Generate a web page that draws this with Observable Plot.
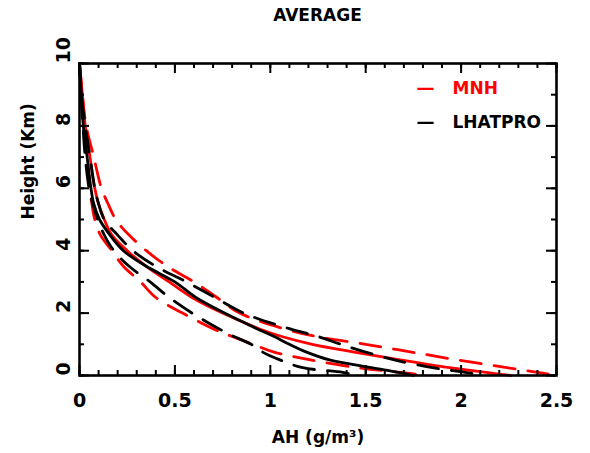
<!DOCTYPE html>
<html>
<head>
<meta charset="utf-8">
<script src="https://cdn.jsdelivr.net/npm/d3@7"></script>
<script src="https://cdn.jsdelivr.net/npm/@observablehq/plot@0.6"></script>
<style>
  body { margin: 0; background: #fff; }
  #title { width: 590px; height: 30px; line-height: 31px; padding-left: 45px; box-sizing: border-box;
           text-align: center; font-family: "DejaVu Sans", sans-serif; font-weight: bold; font-size: 17px; color: #000; }
</style>
</head>
<body>
<div id="title">AVERAGE</div>
<div id="chart"></div>
<script>
const heights   = [10, 9, 8, 7, 6, 5.5, 5, 4.5, 4, 3.5, 3, 2.5, 2, 1.5, 1.25, 1, 0.75, 0.5, 0.25, 0.1, 0];
const mnhMean   = [0, 0.015, 0.03, 0.055, 0.08, 0.10, 0.13, 0.17, 0.25, 0.35, 0.47, 0.59, 0.75, 0.94, 1.06, 1.22, 1.44, 1.68, 1.94, 2.13, 2.26];
const mnhPlus   = [0, 0.015, 0.035, 0.075, 0.115, 0.15, 0.19, 0.26, 0.35, 0.46, 0.60, 0.72, 0.84, 1.07, 1.24, 1.50, 1.74, 1.98, 2.24, 2.40, 2.50];
const mnhMinus  = [0, 0.01, 0.025, 0.04, 0.055, 0.065, 0.08, 0.11, 0.17, 0.23, 0.32, 0.40, 0.54, 0.70, 0.80, 0.91, 1.02, 1.21, 1.46, 1.68, 1.82];
const lhatMean  = [0, 0.01, 0.02, 0.04, 0.06, 0.075, 0.105, 0.16, 0.23, 0.35, 0.50, 0.61, 0.76, 0.93, 1.02, 1.10, 1.19, 1.31, 1.53, 1.67, 1.75];
const lhatPlus  = [0, 0.01, 0.03, 0.055, 0.08, 0.10, 0.13, 0.20, 0.28, 0.40, 0.56, 0.71, 0.86, 1.10, 1.25, 1.37, 1.50, 1.65, 1.85, 2.02, 2.12];
const lhatMinus = [0, 0.008, 0.018, 0.03, 0.05, 0.07, 0.095, 0.13, 0.18, 0.26, 0.37, 0.47, 0.59, 0.73, 0.81, 0.90, 0.96, 1.05, 1.17, 1.38, 1.45];

const xTicks = [0, 0.5, 1, 1.5, 2, 2.5];
const xMinor = d3.range(0, 26).map(i => i / 10);
const yTicks = [0, 2, 4, 6, 8, 10];
const yMinor = d3.range(0, 11);
const legendNames = ["MNH", "LHATPRO"];

const RED = "#ff0000", BLACK = "#000000";
const series = [
  {name: "MNH mean", vals: mnhMean, color: RED, dash: null},
  {name: "MNH +", vals: mnhPlus, color: RED, dash: "21,13"},
  {name: "MNH -", vals: mnhMinus, color: RED, dash: "21,13"},
  {name: "LHATPRO mean", vals: lhatMean, color: BLACK, dash: null},
  {name: "LHATPRO +", vals: lhatPlus, color: BLACK, dash: "21,13"},
  {name: "LHATPRO -", vals: lhatMinus, color: BLACK, dash: "21,13"}
];
const rows = s => s.vals.map((v, i) => ({ah: v, h: heights[i]}));

const W = 590, H = 423;
const mT = 33, mB = 78, mL = 79, mR = 34;
const fh = H - mT - mB;
const fw = W - mL - mR;

const lineMarks = series.map(s => Plot.line(rows(s), {
  x: "ah", y: "h", stroke: s.color, strokeWidth: 2.8,
  strokeDasharray: s.dash ?? undefined, curve: "catmull-rom"
}));

const plot = Plot.plot({
  width: W, height: H,
  marginTop: mT, marginBottom: mB, marginLeft: mL, marginRight: mR,
  x: {domain: [0, 2.5], axis: null},
  y: {domain: [0, 10], axis: null},
  style: {fontFamily: "DejaVu Sans, sans-serif", fontWeight: "bold", fontSize: "19px", background: "#fff", color: "#000"},
  marks: [
    ...lineMarks,
    // ticks (inward) on all sides
    Plot.tickX(xMinor, {x: d => d, insetTop: fh - 5, stroke: BLACK, strokeWidth: 2}),
    Plot.tickX(xMinor, {x: d => d, insetBottom: fh - 5, stroke: BLACK, strokeWidth: 2}),
    Plot.tickX(xTicks, {x: d => d, insetTop: fh - 10, stroke: BLACK, strokeWidth: 2}),
    Plot.tickX(xTicks, {x: d => d, insetBottom: fh - 10, stroke: BLACK, strokeWidth: 2}),
    Plot.tickY(yMinor, {y: d => d, insetRight: fw - 5, stroke: BLACK, strokeWidth: 2}),
    Plot.tickY(yMinor, {y: d => d, insetLeft: fw - 5, stroke: BLACK, strokeWidth: 2}),
    Plot.tickY(yTicks, {y: d => d, insetRight: fw - 10, stroke: BLACK, strokeWidth: 2}),
    Plot.tickY(yTicks, {y: d => d, insetLeft: fw - 10, stroke: BLACK, strokeWidth: 2}),
    Plot.frame({stroke: BLACK, strokeWidth: 2.6}),
    // tick labels
    Plot.text(xTicks, {x: d => d, frameAnchor: "bottom", lineAnchor: "middle", dy: 25, text: d => String(d), fill: BLACK}),
    Plot.text(yTicks, {y: d => d, frameAnchor: "left", lineAnchor: "middle", dx: -16, rotate: -90, text: d => String(d), fill: BLACK}),
    // axis labels
    Plot.text(["AH (g/m³)"], {frameAnchor: "bottom", lineAnchor: "middle", dy: 62, text: d => d, fill: BLACK, fontSize: 17}),
    Plot.text(["Height (Km)"], {frameAnchor: "left", lineAnchor: "middle", dx: -51, rotate: -90, text: d => d, fill: BLACK, fontSize: 17}),
    // legend
    Plot.text([legendNames[0]], {frameAnchor: "top-right", lineAnchor: "middle", dx: -104, dy: 25, textAnchor: "start", text: d => d, fill: RED, fontSize: 17}),
    Plot.text([legendNames[1]], {frameAnchor: "top-right", lineAnchor: "middle", dx: -104, dy: 59, textAnchor: "start", text: d => d, fill: BLACK, fontSize: 17}),
    Plot.text(["—"], {frameAnchor: "top-right", lineAnchor: "middle", dx: -122, dy: 25, text: d => d, fill: RED, fontSize: 18}),
    Plot.text(["—"], {frameAnchor: "top-right", lineAnchor: "middle", dx: -122, dy: 59, text: d => d, fill: BLACK, fontSize: 18})
  ]
});
document.getElementById("chart").appendChild(plot);
</script>
</body>
</html>
